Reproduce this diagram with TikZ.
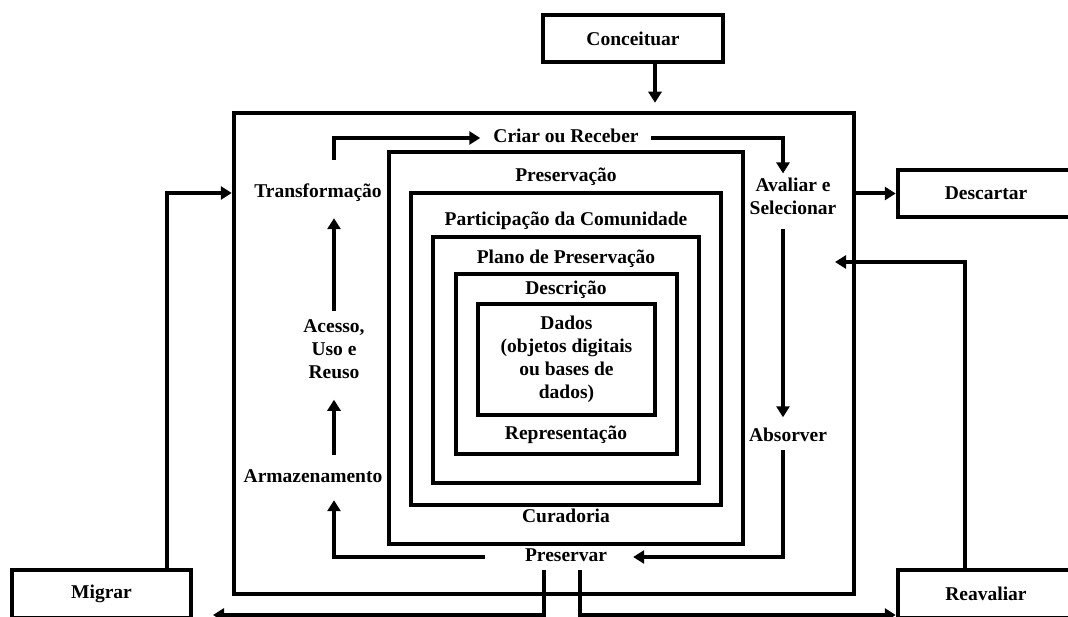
\documentclass[tikz,border=0pt]{standalone}
\usepackage{fontspec}
\setmainfont{Liberation Serif}
\usetikzlibrary{arrows.meta}

\begin{document}
\begin{tikzpicture}[
    x=1pt, y=-1pt,
    every node/.style={font=\fontsize{19.5}{23}\selectfont\bfseries},
    camada/.style={draw, line width=4.5pt, inner sep=0pt},
    caixa/.style={draw, line width=4.5pt, inner sep=0pt, minimum height=47pt},
    etapa/.style={inner sep=0pt, text height=13pt, text depth=4pt},
    varias/.style={inner sep=0pt, align=center},
    fluxo/.style={line width=4pt, -{Triangle[length=11pt,width=13pt]}}
  ]
  \useasboundingbox (0,0) rectangle (1068,617);

  % nested layers of the model
  \node [camada, minimum width=620pt, minimum height=481pt] (ciclo) at (544,353.5) {};
  \node [camada, minimum width=354pt, minimum height=392pt] (curadoria) at (566,348) {};
  \node [camada, minimum width=310pt, minimum height=312pt] (preservacao) at (566,349) {};
  \node [camada, minimum width=266pt, minimum height=246pt] (comunidade) at (566,360) {};
  \node [camada, minimum width=221pt, minimum height=180pt] (descricao) at (566.5,364) {};
  \node [camada, minimum width=177pt, minimum height=111pt] (dados) at (566.5,359.5) {};

  \node [etapa] (l preservacao) at (566,177) {Preservação};
  \node [etapa] (l comunidade) at (566,221) {Participação da Comunidade};
  \node [etapa] (l plano) at (566,259) {Plano de Preservação};
  \node [etapa] (l descricao) at (566,290) {Descrição};
  \node [varias] (l dados) at (566.5,359.5) {Dados\\(objetos digitais\\ou bases de\\dados)};
  \node [etapa] (l representacao) at (566,435) {Representação};
  \node [etapa] (l curadoria) at (566,518) {Curadoria};

  % actions of the cycle
  \node [etapa] (criar) at (566,138) {Criar ou Receber};
  \node [varias] (avaliar) at (793,196) {Avaliar e\\Selecionar};
  \node [etapa] (absorver) at (788,437) {Absorver};
  \node [etapa] (preservar) at (566,557) {Preservar};
  \node [etapa] (armazenamento) at (313,478) {Armazenamento};
  \node [varias] (acesso) at (334,349) {Acesso,\\Uso e\\Reuso};
  \node [etapa] (transformacao) at (318,193) {Transformação};

  % occasional actions
  \node [caixa, minimum width=180pt] (conceituar) at (633,38.5) {Conceituar};
  \node [caixa, minimum width=176pt] (descartar) at (986,193.5) {Descartar};
  \node [caixa, minimum width=179pt, minimum height=48pt] (migrar) at (101.5,594) {Migrar};
  \node [caixa, minimum width=176pt, minimum height=48pt] (reavaliar) at (986,594) {Reavaliar};

  \coordinate (reentrada) at (835,262);
  \coordinate (descida) at (213,615);

  % cycle arrows
  \draw [fluxo, shorten <=24.5pt, shorten >=13pt] (acesso |- transformacao.north) |- (criar.west);
  \draw [fluxo, shorten <=12pt, shorten >=4pt] (criar.east) -| ([xshift=-10pt]avaliar.north);
  \draw [fluxo, shorten <=14pt, shorten >=11pt] ([xshift=-10pt]avaliar.south) -- ([xshift=-10pt]avaliar.south |- absorver.north);
  \draw [fluxo, shorten <=4.5pt, shorten >=26pt] ([xshift=-5pt]absorver.south) |- (preservar.east);
  \draw [fluxo, shorten <=40pt, shorten >=13.5pt] (preservar.west) -| (acesso |- armazenamento.south);
  \draw [fluxo, shorten <=14.5pt, shorten >=21pt] (acesso |- armazenamento.north) -- (acesso.south);
  \draw [fluxo, shorten <=8.5pt, shorten >=16.5pt] (acesso.north) -- (acesso |- transformacao.south);

  % arrows in and out of the cycle
  \draw [fluxo, shorten >=8pt] ([xshift=22pt]conceituar.south) -- ([xshift=22pt]conceituar.south |- ciclo.north);
  \draw [fluxo] (ciclo.east |- descartar) -- (descartar.west);
  \draw [fluxo] ([xshift=-21pt]reavaliar.north) |- (reentrada);
  \draw [fluxo] ([xshift=65.5pt]migrar.north) |- (ciclo.west |- transformacao);
  \draw [fluxo, shorten <=4pt] ([xshift=-22pt]preservar.south) |- (descida);
  \draw [fluxo, shorten <=4pt] ([xshift=14pt]preservar.south) |- (reavaliar.west |- descida);
\end{tikzpicture}
\end{document}
